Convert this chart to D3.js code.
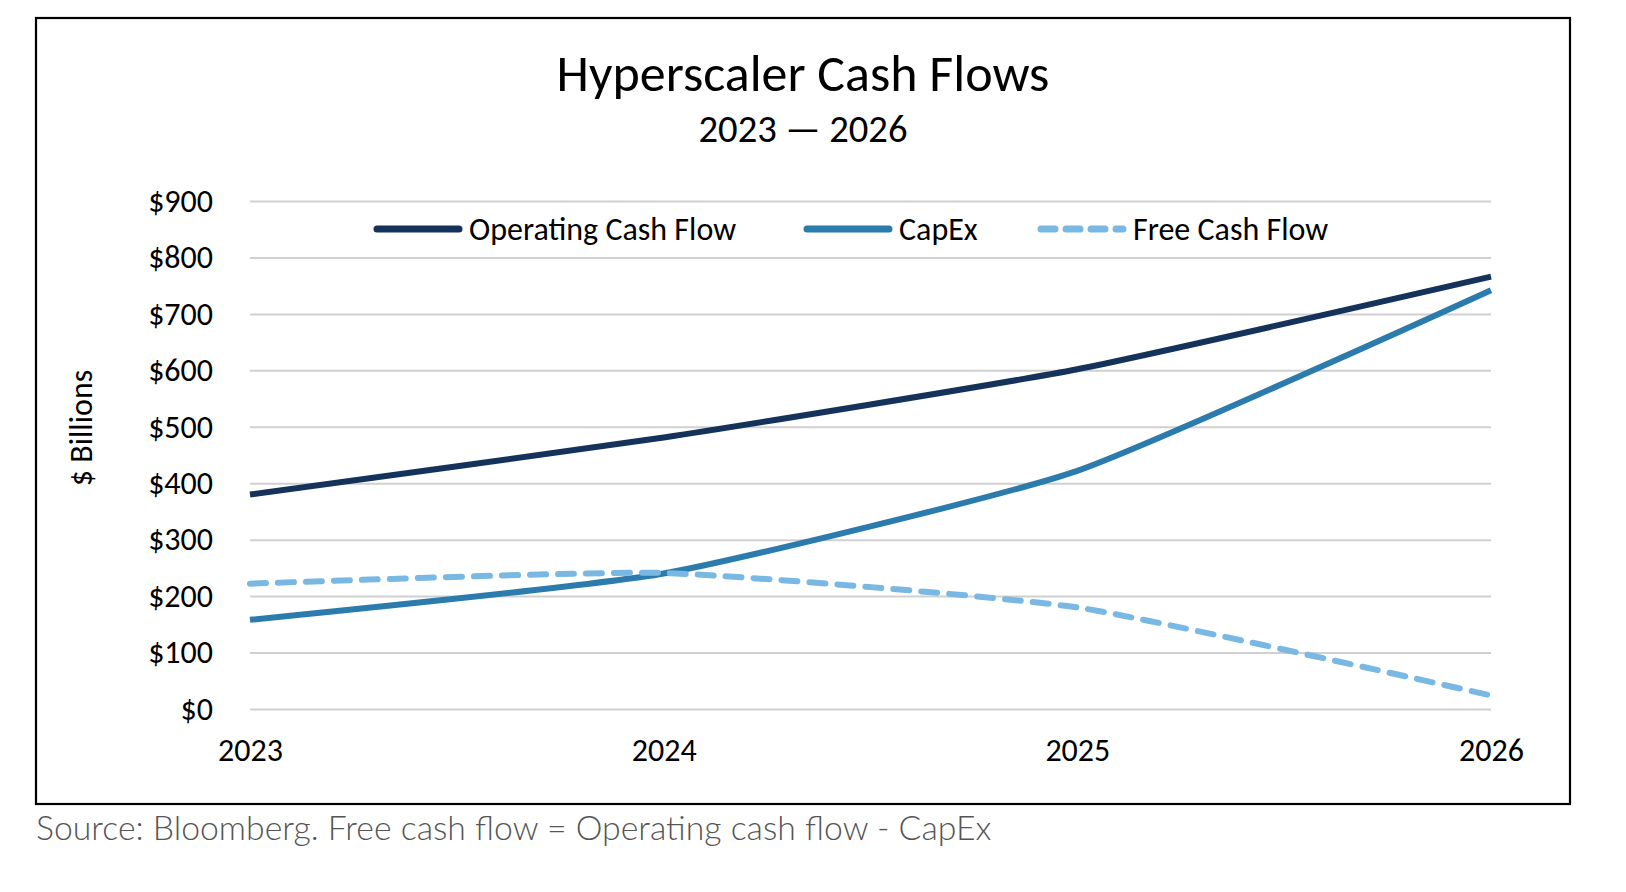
<!DOCTYPE html>
<html>
<head>
<meta charset="utf-8">
<script src="https://cdn.jsdelivr.net/npm/d3@7"></script>
<style>
  html, body { margin: 0; padding: 0; background: #fff; }
  svg { display: block; }
  .lbl { font-family: Carlito, Calibri, Lato, "Open Sans", sans-serif; fill: #000; font-weight: 400; }
</style>
</head>
<body>
<div id="chart"></div>
<script>

// data (in $ billions)
var years = [2023, 2024, 2025, 2026];
var operatingCashFlow = [380, 481, 602, 766];
var capEx = [158, 240, 422, 742];
var freeCashFlow = [222, 241, 180, 24];
var yTicks = [0, 100, 200, 300, 400, 500, 600, 700, 800, 900];
var seriesNames = ["Operating Cash Flow", "CapEx", "Free Cash Flow"];

var colors = ["#14325a", "#2b7bad", "#79b8e2"];

var W = 1626, H = 892;
var margin = { top: 201, right: 135, bottom: 183, left: 250 };
var width = W - margin.left - margin.right;
var height = H - margin.top - margin.bottom;

var svg = d3.select("#chart").append("svg")
    .attr("width", W)
    .attr("height", H);

//fit a text node to a target width by scaling font size
var fit = function(sel, w){
    var len = sel.node().getComputedTextLength();
    var fs = parseFloat(sel.attr("font-size"));
    sel.attr("font-size", fs * w / len);
    return sel;
};

// frame
svg.append("rect")
    .attr("x", 36).attr("y", 18)
    .attr("width", 1534).attr("height", 786)
    .attr("fill", "none")
    .attr("stroke", "#000")
    .attr("stroke-width", 2.2);

// titles
fit(svg.append("text").attr("class", "lbl")
    .attr("x", 803).attr("y", 91)
    .attr("text-anchor", "middle")
    .attr("font-size", 44)
    .text("Hyperscaler Cash Flows"), 493);

fit(svg.append("text").attr("class", "lbl")
    .attr("x", 803).attr("y", 142)
    .attr("text-anchor", "middle")
    .attr("font-size", 34)
    .text("2023 \u2014 2026"), 209);

var x = d3.scalePoint()
    .domain(years)
    .range([0, width]);

var y = d3.scaleLinear()
    .domain([0, 900])
    .range([height, 0]);

var g = svg.append("g")
    .attr("transform", "translate(" + margin.left + "," + margin.top + ")");

// grid
var yAxis = g.append("g")
    .call(d3.axisLeft(y).tickValues(yTicks).tickSize(-width).tickPadding(37)
        .tickFormat(function(d){ return "$" + d; }));
yAxis.select(".domain").remove();
yAxis.selectAll(".tick line").attr("stroke", "#d0d0d0").attr("stroke-width", 2);
yAxis.selectAll(".tick text")
    .attr("class", "lbl")
    .attr("font-size", 32)
    .attr("fill", "#000");

var xAxis = g.append("g")
    .attr("transform", "translate(0," + height + ")")
    .call(d3.axisBottom(x).tickSize(0).tickPadding(29));
xAxis.select(".domain").remove();
xAxis.selectAll(".tick text")
    .attr("class", "lbl")
    .attr("font-size", 32)
    .attr("fill", "#000");

// y title
svg.append("text").attr("class", "lbl")
    .attr("transform", "translate(81,428) rotate(-90)")
    .attr("text-anchor", "middle")
    .attr("dy", "0.35em")
    .attr("font-size", 32)
    .text("$ Billions");

// lines
var series = [operatingCashFlow, capEx, freeCashFlow];
var line = d3.line()
    .x(function(d, i){ return x(years[i]); })
    .y(function(d){ return y(d); })
    .curve(d3.curveCardinal.tension(0.5));

g.selectAll(".series")
    .data(series)
    .enter()
    .append("path")
    .attr("d", line)
    .attr("fill", "none")
    .attr("stroke", function(d, i){ return colors[i]; })
    .attr("stroke-width", 6)
    .attr("stroke-linecap", function(d, i){ return i === 2 ? "round" : "butt"; })
    .attr("stroke-dasharray", function(d, i){ return i === 2 ? "16,12" : null; });

// legend
var legendX = [375, 805, 1039];
var legend = svg.append("g");
seriesNames.forEach(function(name, i){
    var lg = legend.append("g").attr("transform", "translate(" + legendX[i] + ",229)");
    lg.append("line")
        .attr("x1", 2).attr("x2", 84)
        .attr("stroke", colors[i])
        .attr("stroke-width", 7)
        .attr("stroke-linecap", "round")
        .attr("stroke-dasharray", i === 2 ? "14,11" : null);
    lg.append("text").attr("class", "lbl")
        .attr("x", 94)
        .attr("dy", "0.35em")
        .attr("font-size", 32)
        .text(name);
});

// source note
fit(svg.append("text")
    .attr("x", 36).attr("y", 840)
    .attr("font-family", "Lato, 'Open Sans', sans-serif")
    .attr("font-weight", 300)
    .attr("fill", "#555")
    .attr("font-size", 28)
    .text("Source: Bloomberg. Free cash flow = Operating cash flow - CapEx"), 956);

</script>
</body>
</html>
